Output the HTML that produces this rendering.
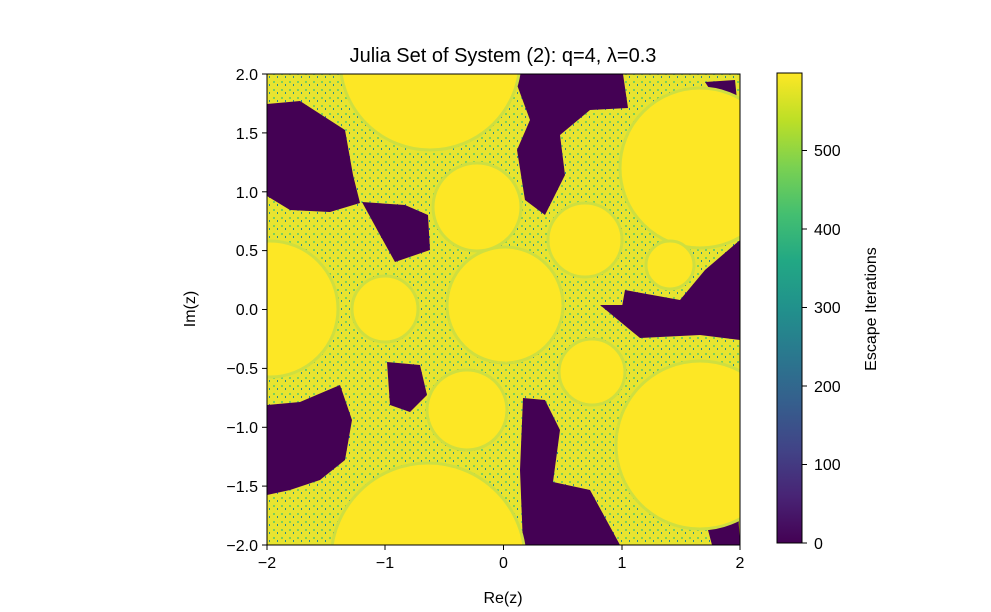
<!DOCTYPE html>
<html><head><meta charset="utf-8"><style>
html,body{margin:0;background:#fff;width:991px;height:612px;overflow:hidden;}
svg{display:block;font-family:"Liberation Sans","DejaVu Sans",sans-serif;}
</style></head><body>
<svg width="991" height="612" viewBox="0 0 991 612">
<defs>
<linearGradient id="vir" x1="0" y1="1" x2="0" y2="0">
<stop offset="0" stop-color="#440154"/><stop offset="0.1" stop-color="#482475"/>
<stop offset="0.2" stop-color="#414487"/><stop offset="0.3" stop-color="#355f8d"/>
<stop offset="0.4" stop-color="#2a788e"/><stop offset="0.5" stop-color="#21918c"/>
<stop offset="0.6" stop-color="#22a884"/><stop offset="0.7" stop-color="#44bf70"/>
<stop offset="0.8" stop-color="#7ad151"/><stop offset="0.9" stop-color="#bddf26"/>
<stop offset="1" stop-color="#fde725"/></linearGradient>
<pattern id="fr" width="8" height="8" patternUnits="userSpaceOnUse">
<rect width="8" height="8" fill="#e8e430"/><rect x="1" y="1" width="2" height="2" fill="#7ccf5a"/><rect x="5" y="4" width="1" height="2" fill="#2a8a8c"/>
</pattern>
<clipPath id="cp"><rect x="267" y="74" width="473" height="471"/></clipPath>
</defs>
<text x="503" y="62" font-size="20" text-anchor="middle" fill="#000">Julia Set of System (2): q=4, λ=0.3</text>
<g clip-path="url(#cp)">
<rect x="267" y="74" width="473" height="471" fill="url(#fr)"/>
<g fill="#440154">
<polygon points="267,104 300,101 345,130 353,175 360,203 330,212 290,210 267,196"/>
<polygon points="362,202 405,205 428,215 430,250 395,262 380,235"/>
<polygon points="513,74 623,74 628,108 590,110 560,135 565,175 545,215 525,200 517,150 530,120"/>
<polygon points="625,290 680,300 705,270 740,240 740,335 690,322 640,336 620,318"/>
<polygon points="267,405 300,402 340,385 352,420 345,460 320,480 290,490 267,495"/>
<polygon points="387,362 420,365 427,395 410,412 390,405"/>
<polygon points="523,398 545,400 560,430 553,482 590,490 620,545 523,545 520,470"/>
<polygon points="600,305 740,305 740,340 700,335 640,338"/>
<polygon points="705,82 735,80 738,110 720,105"/>
<polygon points="708,530 738,510 740,545 712,545"/>
</g>
<g fill="#fde725" stroke="#cfdf40" stroke-width="3">
<circle cx="430" cy="60" r="90"/>
<circle cx="700" cy="168" r="80"/>
<circle cx="505" cy="305" r="58"/>
<circle cx="270" cy="309" r="68"/>
<circle cx="385" cy="309" r="33"/>
<circle cx="477" cy="207" r="44"/>
<circle cx="585" cy="240" r="37"/>
<circle cx="670" cy="265" r="24"/>
<circle cx="428" cy="560" r="97"/>
<circle cx="700" cy="445" r="84"/>
<circle cx="467" cy="410" r="40"/>
<circle cx="592" cy="372" r="33"/>
</g>
</g>
<rect x="267" y="74" width="473" height="471" fill="none" stroke="#000" stroke-width="1"/>
<g stroke="#000" stroke-width="1">
<line x1="267" y1="545" x2="267" y2="550"/><line x1="385" y1="545" x2="385" y2="550"/><line x1="503.5" y1="545" x2="503.5" y2="550"/><line x1="622" y1="545" x2="622" y2="550"/><line x1="740" y1="545" x2="740" y2="550"/>
<line x1="262" y1="74" x2="267" y2="74"/><line x1="262" y1="132.9" x2="267" y2="132.9"/><line x1="262" y1="191.8" x2="267" y2="191.8"/><line x1="262" y1="250.6" x2="267" y2="250.6"/><line x1="262" y1="309.5" x2="267" y2="309.5"/><line x1="262" y1="368.4" x2="267" y2="368.4"/><line x1="262" y1="427.3" x2="267" y2="427.3"/><line x1="262" y1="486.1" x2="267" y2="486.1"/><line x1="262" y1="545" x2="267" y2="545"/>
</g>
<g font-size="16" fill="#000" text-anchor="middle">
<text x="267" y="568">−2</text><text x="385" y="568">−1</text><text x="503.5" y="568">0</text><text x="622" y="568">1</text><text x="740" y="568">2</text>
<text x="503" y="603">Re(z)</text>
</g>
<g font-size="16" fill="#000" text-anchor="end">
<text x="258" y="80">2.0</text><text x="258" y="139">1.5</text><text x="258" y="198">1.0</text><text x="258" y="256">0.5</text><text x="258" y="315">0.0</text><text x="258" y="374">−0.5</text><text x="258" y="433">−1.0</text><text x="258" y="492">−1.5</text><text x="258" y="551">−2.0</text>
</g>
<text transform="translate(195,309) rotate(-90)" font-size="16" text-anchor="middle">Im(z)</text>
<rect x="777" y="73" width="25" height="470" fill="url(#vir)" stroke="#000" stroke-width="1"/>
<g stroke="#000"><line x1="802" y1="543" x2="807" y2="543"/><line x1="802" y1="464.5" x2="807" y2="464.5"/><line x1="802" y1="386" x2="807" y2="386"/><line x1="802" y1="307.5" x2="807" y2="307.5"/><line x1="802" y1="229" x2="807" y2="229"/><line x1="802" y1="150.5" x2="807" y2="150.5"/></g>
<g font-size="16" fill="#000">
<text x="814" y="549">0</text><text x="814" y="470">100</text><text x="814" y="392">200</text><text x="814" y="313">300</text><text x="814" y="235">400</text><text x="814" y="156">500</text>
</g>
<text transform="translate(876,309) rotate(-90)" font-size="16" text-anchor="middle">Escape Iterations</text>
</svg>
</body></html>
